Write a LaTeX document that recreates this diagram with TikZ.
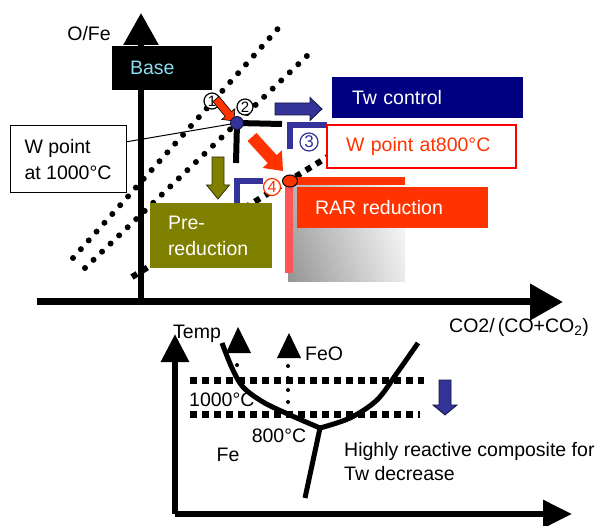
\documentclass[tikz,border=0pt]{standalone}
\usepackage{fontspec}
\setmainfont{Liberation Sans}
\usetikzlibrary{arrows.meta,calc,shadings}
\definecolor{navyb}{HTML}{000080}
\definecolor{oliveb}{HTML}{808000}
\definecolor{rarred}{HTML}{FF3300}
\definecolor{blueb}{HTML}{333399}
\definecolor{pinkr}{HTML}{FF5555}
\definecolor{basecyan}{HTML}{88DDEE}
\newcommand\blkarrow[6][]{%
  \coordinate (ba-hb) at ($(#3)!#6!(#2)$);
  \path[#1] ($(#2)!#4!90:(#3)$) -- ($(ba-hb)!#4!90:(#3)$) -- ($(ba-hb)!#5!90:(#3)$) -- (#3)
    -- ($(ba-hb)!#5!-90:(#3)$) -- ($(ba-hb)!#4!-90:(#3)$) -- ($(#2)!#4!-90:(#3)$) -- cycle;}
\tikzset{
  txt/.style={font=\fontsize{19.5}{25}\selectfont, inner sep=0pt},
  box/.style={inner ysep=0pt, align=left, font=\fontsize{19.5}{26}\selectfont},
  circnum/.style={circle, fill=white, draw=#1, text=#1, line width=1.2pt, inner sep=0pt,
    minimum size=16pt, font=\fontsize{15}{15}\selectfont},
  rounddots/.style={line width=6pt, line cap=round, dash pattern=on 0pt off 11.8pt},
  diamdots/.style={line width=6pt, dash pattern=on 6pt off 6pt},
  sqdots/.style={line width=7pt, dash pattern=on 7pt off 5pt},
  smalldots/.style={line width=4pt, line cap=round, dash pattern=on 0pt off 12pt},
  bracket/.style={draw=blueb, line width=6pt},
  curve/.style={line width=5pt},
}
\begin{document}
\begin{tikzpicture}[x=1pt,y=-1pt]
\useasboundingbox (0,0) rectangle (602,526);
% ---------- upper diagram ----------
% dotted lines
\coordinate (la1) at (73,258); \coordinate (la2) at (283,23);
\coordinate (lb1) at (85,268); \coordinate (lb2) at (310,53);
\coordinate (lc1) at (132,277); \coordinate (lc2) at (334,153);
\draw[rounddots] (la1) -- (la2);
\draw[rounddots] (lb1) -- (lb2);
\draw[diamdots] (lc1) -- (lc2);
% axes
\coordinate (yb) at (141,304); \coordinate (yt) at (141,13);
\coordinate (xl) at (37,302); \coordinate (xr) at (563,302);
\draw[line width=6pt, -{Triangle[length=32pt,width=34pt]}] (yb) -- (yt);
\draw[line width=7pt, -{Triangle[length=33pt,width=35pt]}] (xl) -- (xr);
\node[txt] (ofe) at (89,34) {O/Fe};
\node[txt, anchor=west] (co2) at (449,327) {CO2/\,(CO+CO\textsubscript{2})};
% Base box
\node[box, fill=black, text=basecyan, minimum height=44pt, inner xsep=18pt, text width=64pt] (base) at (162,68) {Base};
% RAR background
\shade[lower left=black!42, upper left=black!30, lower right=black!8, upper right=white] (288,185) rectangle (405,282);
\fill[rarred] (292,177) rectangle (405,185);
\fill[pinkr] (285,178) rectangle (293,273);
% brackets
\draw[bracket] (290,149) -- (290,125) -- (327,125);
\draw[bracket] (237,206) -- (237,181) -- (263,181);
% T shape at W point
\coordinate (wpt) at (237,123);
\coordinate (th) at (282,124); \coordinate (tv) at (236,163);
\draw[line width=6pt] (wpt) -- (th);
\draw[line width=6pt] (wpt) -- (tv);
% boxes
\node[box, fill=navyb, text=white, minimum height=41pt, inner xsep=20pt, text width=151pt] (tw) at (427.5,97.5) {Tw control};
\node[box, fill=white, draw=red, line width=1.2pt, text=rarred, minimum height=43pt, inner xsep=19pt, text width=151pt] (w800) at (421.5,146.5) {W point at800°C};
\node[box, fill=rarred, text=white, minimum height=41pt, inner xsep=18pt, text width=155pt] (rar) at (392.5,207.5) {RAR reduction};
\node[box, fill=oliveb, text=white, minimum height=65pt, inner xsep=18pt, text width=86pt] (pre) at (211,235.5) {Pre-\\reduction};
\node[box, fill=white, draw=black, line width=1pt, minimum height=67pt, minimum width=116pt, inner xsep=0pt] (w1000) at (68,159.5) {W point\\at 1000°C};
% circled numbers
\node[circnum=black] (n1) at (212,101) {1};
\coordinate (ra1) at (216,99); \coordinate (ra2) at (234,121);
\blkarrow[fill=rarred, draw=black, line width=0.6pt]{ra1}{ra2}{4pt}{8.5pt}{9pt}
\node[circnum=black] (n2) at (245,107) {2};
\node[circnum=blueb, minimum size=18pt, font=\fontsize{17}{17}\selectfont] (n3) at (309,142) {3};
% pointer line
\draw[line width=1pt] ($(w1000.north east)!0.24!(w1000.south east)$) -- (wpt);
% W point circle
\fill[blueb, draw=black!70!blueb, line width=0.8pt] (wpt) circle (6.5pt);
% arrows
\coordinate (rb1) at (252,137); \coordinate (rb2) at (283,171);
\blkarrow[fill=rarred]{rb1}{rb2}{6pt}{13pt}{16pt}
\coordinate (bl1) at (275,109); \coordinate (bl2) at (322,109);
\blkarrow[fill=blueb, draw=black!60!blueb, line width=0.8pt]{bl1}{bl2}{6pt}{11.5pt}{12pt}
\coordinate (ol1) at (218,157); \coordinate (ol2) at (218,199);
\blkarrow[fill=oliveb, draw=black!60!oliveb, line width=0.8pt]{ol1}{ol2}{6pt}{11.5pt}{14pt}
% W800 point
\node[circnum=rarred, minimum size=17pt, font=\fontsize{16}{16}\selectfont] (n4) at (272,187) {4};
\coordinate (opt) at (290,181);
\fill[rarred, draw=black, line width=1pt] (opt) ellipse (7.5pt and 6pt);
% ---------- lower diagram ----------
\coordinate (lo) at (175,514); \coordinate (ly) at (175,334); \coordinate (lx) at (572,514);
\draw[line width=6pt, -{Triangle[length=28pt,width=27pt]}] (lo) -- (ly);
\draw[line width=6pt, -{Triangle[length=29pt,width=27pt]}] (lo) -- (lx);
\node[txt, anchor=west] (temp) at (173,334) {Temp};
% dotted level lines
\coordinate (d1a) at (190,380); \coordinate (d1b) at (424,380);
\coordinate (d2a) at (190,414); \coordinate (d2b) at (420,414);
\draw[sqdots] (d1a) -- (d1b);
\draw[sqdots] (d2a) -- (d2b);
% small dotted arrows
\coordinate (v1a) at (237,377); \coordinate (v1b) at (237,355);
\coordinate (v2a) at (288,402); \coordinate (v2b) at (288,361);
\draw[smalldots] (v1a) -- (v1b);
\draw[smalldots] (v2a) -- (v2b);
\fill (226,353) -- (238,327) -- (251,353) -- cycle;
\fill (277,358) -- (289,333) -- (301,358) -- cycle;
% phase curve
\coordinate (jn) at (320,428); \coordinate (stem) at (305,498);
\draw[curve] plot[smooth, tension=0.55] coordinates {(222,343) (232,368) (243,387) (263,402) (290,415) (320,428)};
\draw[curve] plot[smooth, tension=0.55] coordinates {(320,428) (350,418) (377,400) (397,373) (418,343)};
\draw[curve] (jn) -- (stem);
% labels
\node[txt, anchor=west] (feo) at (305,354) {FeO};
\node[txt, anchor=west] (t1000) at (189,400) {1000°C};
\node[txt] (t800) at (279,436) {800°C};
\node[txt] (fe) at (228,455) {Fe};
\node[txt, anchor=west, align=left, font=\fontsize{19.5}{24}\selectfont] (hrc) at (344,462) {Highly reactive composite for\\Tw decrease};
% blue down arrow
\coordinate (bd1) at (445,380); \coordinate (bd2) at (445,415);
\blkarrow[fill=blueb, draw=black!60!blueb, line width=0.8pt]{bd1}{bd2}{6pt}{12pt}{10pt}
\end{tikzpicture}
\end{document}
